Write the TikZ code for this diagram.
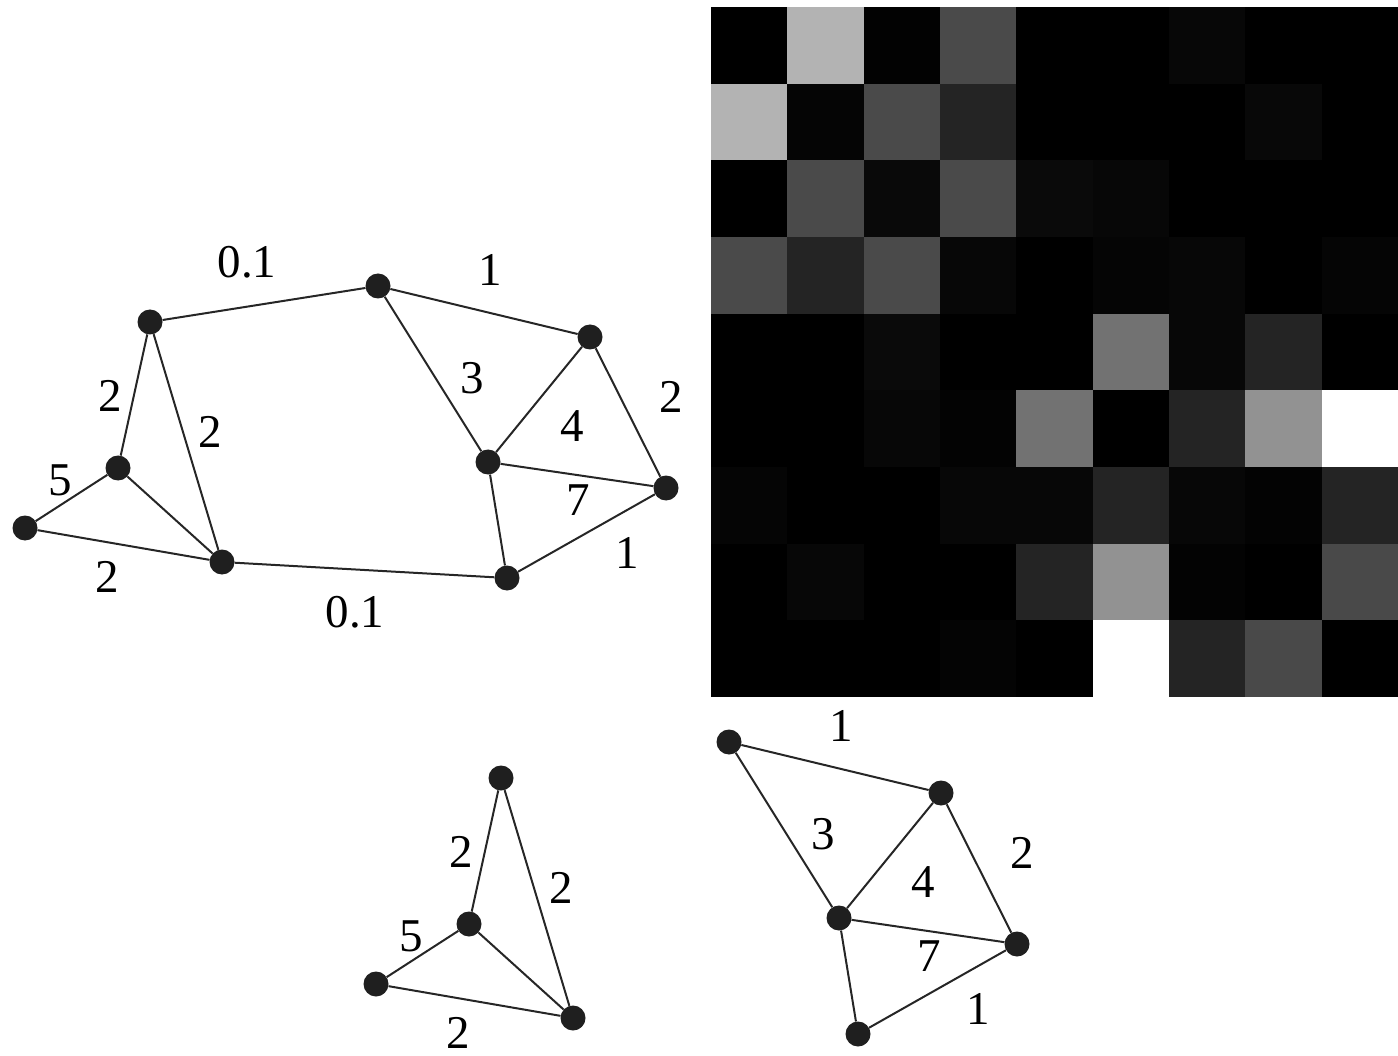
\documentclass[tikz,border=0pt]{standalone}
\usepackage{fontspec}
\setmainfont{Liberation Serif}
\begin{document}
\begin{tikzpicture}[
  x=1pt, y=-1pt,
  dot/.style={circle, fill=black!88, inner sep=0pt, minimum size=25pt},
  edge/.style={line width=2pt, black!85},
  lbl/.style={font=\fontsize{47}{50}\selectfont, inner sep=0pt},
]
\useasboundingbox (0,0) rectangle (1398,1056);

\def\cw{76.33}
\def\ch{76.67}

% weighted graph (t) and the same graph cut in two (b)
\foreach \g/\dx/\dy in {t/0/0, b/351/456} {
  \begin{scope}[shift={(\dx,\dy)}]
  \node[dot] (\g0) at (25,528)  {};
  \node[dot] (\g1) at (118,468) {};
  \node[dot] (\g2) at (150,322) {};
  \node[dot] (\g3) at (222,562) {};
  \node[dot] (\g4) at (378,286) {};
  \node[dot] (\g5) at (488,462) {};
  \node[dot] (\g6) at (507,578) {};
  \node[dot] (\g7) at (590,337) {};
  \node[dot] (\g8) at (666,488) {};

  \draw[edge] (\g0) -- (\g1);
  \draw[edge] (\g0) -- (\g3);
  \draw[edge] (\g1) -- (\g2);
  \draw[edge] (\g1) -- (\g3);
  \draw[edge] (\g2) -- (\g3);
  \draw[edge] (\g4) -- (\g5);
  \draw[edge] (\g4) -- (\g7);
  \draw[edge] (\g5) -- (\g6);
  \draw[edge] (\g5) -- (\g7);
  \draw[edge] (\g5) -- (\g8);
  \draw[edge] (\g6) -- (\g8);
  \draw[edge] (\g7) -- (\g8);

  \node[lbl] (\g w01) at (60,480)  {5};
  \node[lbl] (\g w03) at (107,577) {2};
  \node[lbl] (\g w12) at (110,396) {2};
  \node[lbl] (\g w23) at (210,432) {2};
  \node[lbl] (\g w45) at (472,378) {3};
  \node[lbl] (\g w47) at (490,270) {1};
  \node[lbl] (\g w57) at (572,426) {4};
  \node[lbl] (\g w58) at (578,500) {7};
  \node[lbl] (\g w68) at (627,553) {1};
  \node[lbl] (\g w78) at (671,397) {2};
  \end{scope}
}

% the two weak links
\draw[edge] (t2) -- (t4);
\draw[edge] (t3) -- (t6);
\node[lbl] (tw24) at (247,262) {0.1};
\node[lbl] (tw36) at (355,612) {0.1};

% weight matrix, grey level per entry
\foreach \row [count=\i from 0] in {
  {0,179,2,74,0,0,7,0,0},
  {179,5,74,36,0,0,0,8,0},
  {0,74,9,74,10,7,0,0,0},
  {74,36,74,7,0,5,7,0,5},
  {0,0,10,0,0,114,7,36,0},
  {0,0,7,3,114,0,36,146,255},
  {5,0,0,7,7,36,7,3,36},
  {0,7,0,0,36,146,3,0,73},
  {0,0,0,4,0,255,36,73,0}} {
  \foreach \v [count=\j from 0] in \row {
    \definecolor{cellc}{RGB}{\v,\v,\v}
    \fill[cellc] ({711+\j*\cw},{7+\i*\ch}) rectangle ++(\cw+0.3,\ch+0.3);
  }
}

\end{tikzpicture}
\end{document}
